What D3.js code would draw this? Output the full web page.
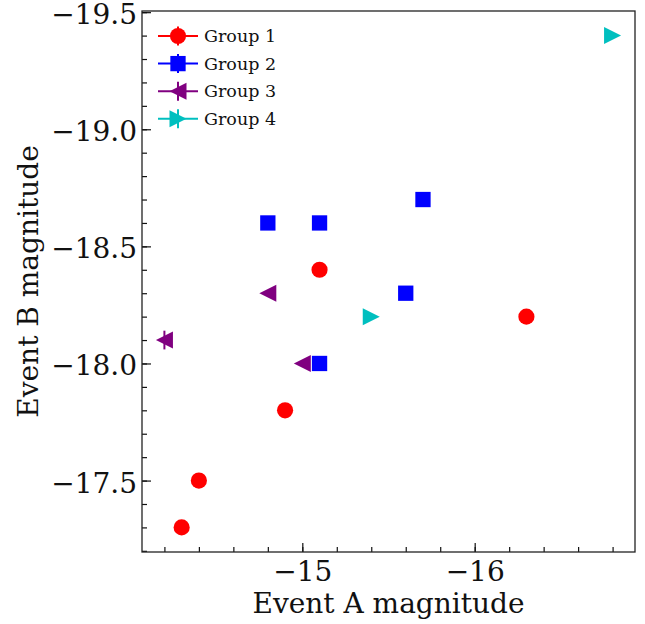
<!DOCTYPE html>
<html>
<head>
<meta charset="utf-8">
<script src="https://cdn.jsdelivr.net/npm/d3@7"></script>
<style>
  html, body { margin: 0; padding: 0; background: #fff; }
  svg { display: block; font-family: "DejaVu Serif", serif; }
</style>
</head>
<body>
<svg id="chart" width="645" height="624"></svg>
<script>
// ── DATA ────────────────────────────────────────────────────
const groupNames = ['Group 1', 'Group 2', 'Group 3', 'Group 4'];
const group1A = [-14.3, -14.4, -14.9, -15.1, -16.3];
const group1B = [-17.3, -17.5, -17.8, -18.4, -18.2];
const group2A = [-14.8, -15.1, -15.7, -15.6, -15.1];
const group2B = [-18.6, -18.6, -18.7, -18.3, -18.0];
const group3A = [-14.2, -14.8, -15.0];
const group3B = [-18.1, -18.3, -18.0];
const group3Err = [0.04, 0, 0];
const group4A = [-15.4, -16.8];
const group4B = [-18.2, -19.4];
const xTicks = [-15, -16];
const yTicks = [-17.5, -18.0, -18.5, -19.0, -19.5];

// ── CONFIG ──────────────────────────────────────────────────
const W = 645, H = 624;
const M = { left: 142, right: 635, top: 11, bottom: 552 };
const MS = 17;          // marker size px

const groups = [
  { name: groupNames[0], a: group1A, b: group1B, err: null,      color: '#ff0000', shape: 'circle' },
  { name: groupNames[1], a: group2A, b: group2B, err: null,      color: '#0000ff', shape: 'square' },
  { name: groupNames[2], a: group3A, b: group3B, err: group3Err, color: '#800080', shape: 'left' },
  { name: groupNames[3], a: group4A, b: group4B, err: null,      color: '#00bfbf', shape: 'right' }
];

// matplotlib-style 5% margins
const allA = groups.flatMap(g => g.a), allB = groups.flatMap(g => g.b);
const pad = (ext) => { const d = (ext[1] - ext[0]) * 0.05; return [ext[0] - d, ext[1] + d]; };
const xDom = pad(d3.extent(allA)), yDom = pad(d3.extent(allB));

// both axes inverted: more negative to the right / up
const x = d3.scaleLinear().domain([xDom[1], xDom[0]]).range([M.left, M.right]);
const y = d3.scaleLinear().domain([yDom[0], yDom[1]]).range([M.top, M.bottom]);

const svg = d3.select('#chart');
const fmtX = d => d3.format('d')(d).replace('-', '\u2212');
const fmtY = d => d3.format('.1f')(d).replace('-', '\u2212');

// ── AXES ────────────────────────────────────────────────────
const range = (a, b, s) => d3.range(Math.round(a / s), Math.round(b / s) + 1).map(k => +(k * s).toFixed(2));
const xMinor = range(Math.ceil(xDom[0] / 0.2) * 0.2, xDom[1], 0.2).filter(v => v >= xDom[0] && v <= xDom[1]);
const yMinor = range(Math.ceil(yDom[0] / 0.1) * 0.1, yDom[1], 0.1).filter(v => v >= yDom[0] && v <= yDom[1]);

const axX = svg.append('g').attr('transform', `translate(0,${M.bottom})`);
axX.call(d3.axisBottom(x).tickValues(xMinor).tickSize(-5).tickFormat(''));
axX.append('g').call(d3.axisBottom(x).tickValues(xTicks).tickSize(-9).tickFormat(fmtX));

const axY = svg.append('g').attr('transform', `translate(${M.left},0)`);
axY.call(d3.axisLeft(y).tickValues(yMinor).tickSize(-5).tickFormat(''));
axY.append('g').call(d3.axisLeft(y).tickValues(yTicks).tickSize(-9).tickFormat(fmtY));

svg.selectAll('.domain').remove();
svg.selectAll('g').attr('font-family', null);
svg.selectAll('.tick line').attr('stroke', '#111').attr('stroke-width', 1.2);
axX.selectAll('.tick text').attr('font-size', 28).attr('fill', '#111').attr('dy', 0).attr('y', 29);
axY.selectAll('.tick text').attr('font-size', 28).attr('fill', '#111').attr('dy', '0.41em').attr('x', -5);

// frame
svg.append('rect')
  .attr('x', M.left).attr('y', M.top)
  .attr('width', M.right - M.left).attr('height', M.bottom - M.top)
  .attr('fill', 'none').attr('stroke', '#222').attr('stroke-width', 1.3);

svg.append('text')
  .attr('x', (M.left + M.right) / 2).attr('y', 613)
  .attr('text-anchor', 'middle').attr('font-size', 28).attr('fill', '#111')
  .text('Event A magnitude');

svg.append('text')
  .attr('transform', `translate(38,${(M.top + M.bottom) / 2}) rotate(-90)`)
  .attr('text-anchor', 'middle').attr('font-size', 28).attr('fill', '#111')
  .text('Event B magnitude');

// ── MARKERS ─────────────────────────────────────────────────
function marker(sel, shape, color) {
  const r = MS / 2;
  if (shape === 'circle') {
    sel.append('circle').attr('r', r * 0.95).attr('fill', color);
  } else if (shape === 'square') {
    sel.append('rect').attr('x', -r * 0.9).attr('y', -r * 0.9)
      .attr('width', r * 1.8).attr('height', r * 1.8).attr('fill', color);
  } else {
    const s = shape === 'left' ? -1 : 1;
    sel.append('path').attr('d', `M${s * r},0L${-s * r},${-r}L${-s * r},${r}Z`).attr('fill', color);
  }
}

const plot = svg.append('g');
groups.forEach(g => {
  g.a.forEach((a, i) => {
    const cx = x(a), cy = y(g.b[i]);
    const e = g.err ? g.err[i] : 0;
    if (e > 0) {
      plot.append('line')
        .attr('x1', cx).attr('x2', cx)
        .attr('y1', y(g.b[i] - e)).attr('y2', y(g.b[i] + e))
        .attr('stroke', g.color).attr('stroke-width', 2);
    }
    marker(plot.append('g').attr('transform', `translate(${cx},${cy})`), g.shape, g.color);
  });
});

// ── LEGEND ──────────────────────────────────────────────────
const leg = svg.append('g').attr('transform', 'translate(158,36)');
groups.forEach((g, i) => {
  const row = leg.append('g').attr('transform', `translate(0,${i * 27.6})`);
  row.append('line').attr('x1', 0).attr('x2', 40).attr('y1', 0).attr('y2', 0)
    .attr('stroke', g.color).attr('stroke-width', 2);
  row.append('line').attr('x1', 20).attr('x2', 20).attr('y1', -9.5).attr('y2', 9.5)
    .attr('stroke', g.color).attr('stroke-width', 2);
  marker(row.append('g').attr('transform', 'translate(20,0)'), g.shape, g.color);
  row.append('text').attr('x', 46).attr('y', 6)
    .attr('font-size', 17.5).attr('fill', '#111').text(g.name);
});
</script>
</body>
</html>
